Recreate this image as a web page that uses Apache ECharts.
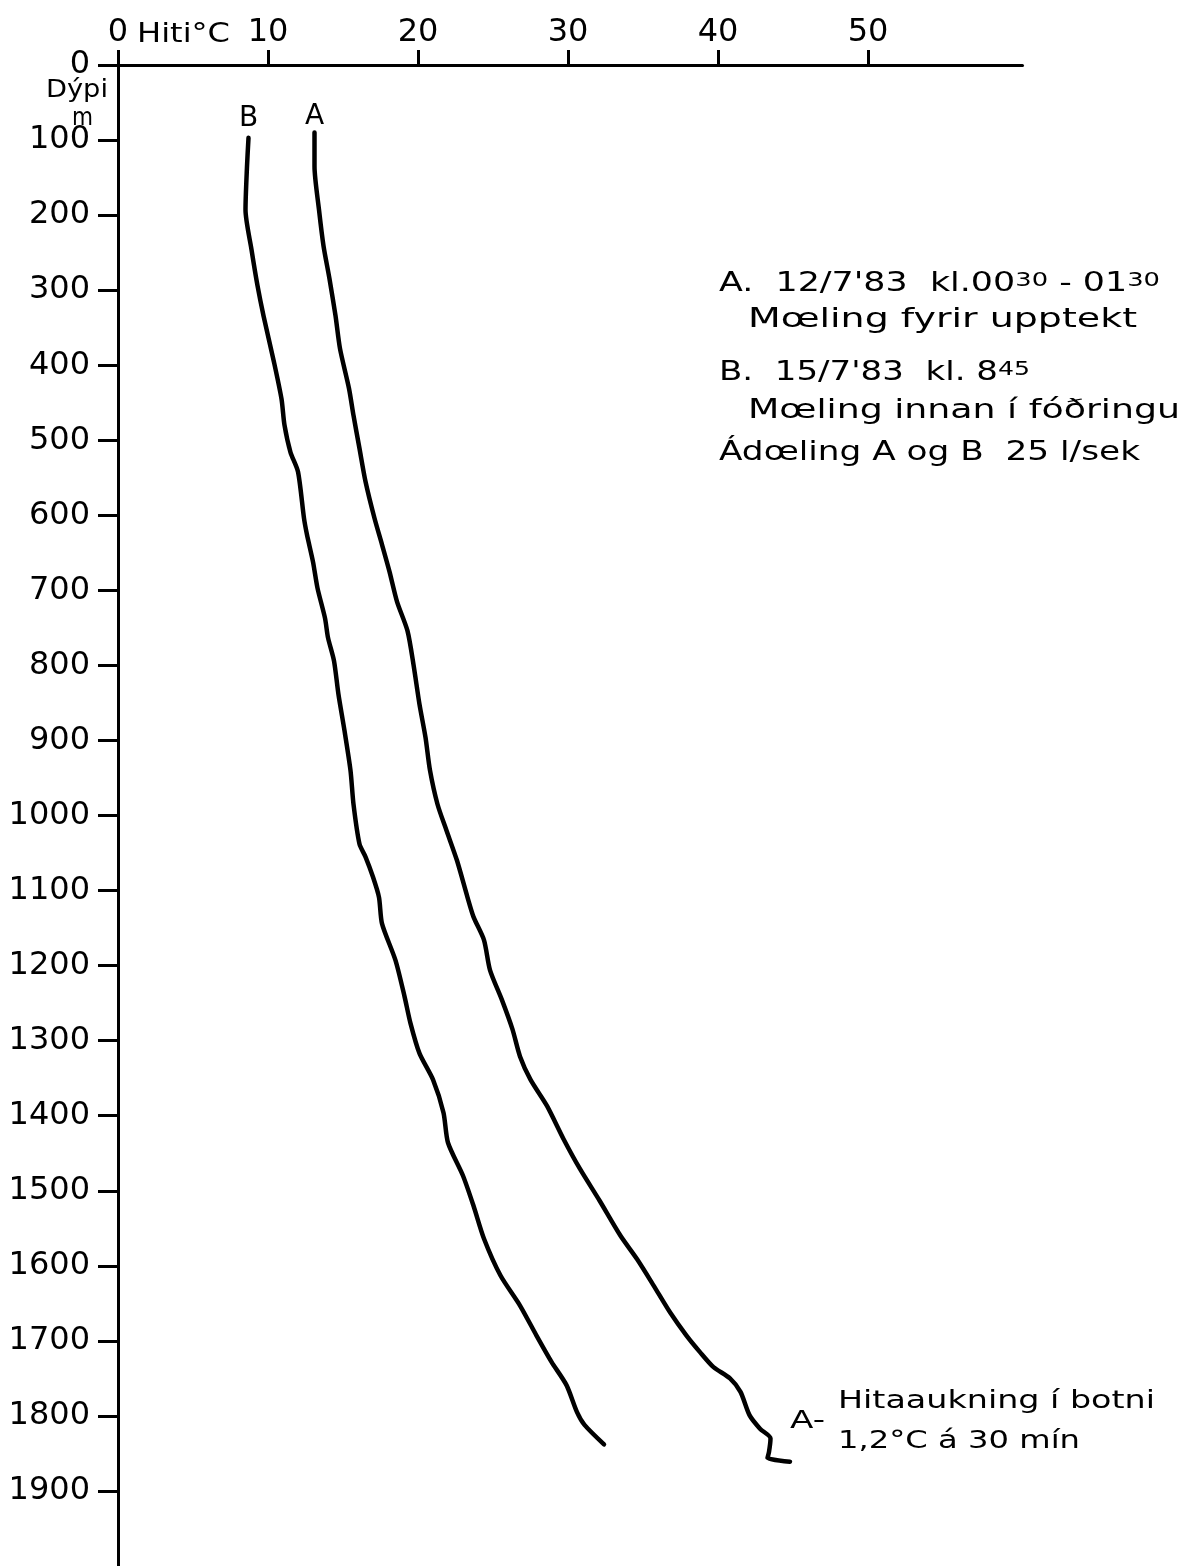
<!DOCTYPE html>
<html>
<head>
<meta charset="utf-8">
<script src="https://cdn.jsdelivr.net/npm/echarts@6/dist/echarts.min.js"></script>
<style>
  html, body { margin: 0; padding: 0; background: #fff; }
  #chart { width: 1180px; height: 1566px; }
</style>
</head>
<body>
<div id="chart"></div>
<script>
// Temperature axis (°C) and depth axis (m) ticks
const tempTicks = [0, 10, 20, 30, 40, 50];
const depthTicks = [0, 100, 200, 300, 400, 500, 600, 700, 800, 900, 1000,
  1100, 1200, 1300, 1400, 1500, 1600, 1700, 1800, 1900];

// Curve A: 12/7'83, measured before production
const depthA = [90, 135, 193, 241, 285, 334, 378, 431, 467, 511,
  555, 604, 639, 675, 715, 754, 799, 852, 896, 940,
  985, 1020, 1060, 1109, 1135, 1166, 1206, 1246, 1285, 1321,
  1352, 1387, 1431, 1471, 1513, 1560, 1591, 1626, 1662, 1693,
  1715, 1735, 1750, 1768, 1799, 1817, 1830, 1848, 1856, 1861];
const tempA = [13.1, 13.1, 13.4, 13.7, 14.1, 14.5, 14.8, 15.4, 15.7, 16.1,
  16.5, 17.1, 17.6, 18.1, 18.6, 19.3, 19.7, 20.1, 20.5, 20.8,
  21.3, 21.9, 22.6, 23.3, 23.7, 24.4, 24.8, 25.6, 26.3, 26.8,
  27.5, 28.6, 29.7, 30.8, 32.1, 33.5, 34.6, 35.7, 36.8, 37.9,
  38.8, 39.7, 40.8, 41.5, 42.1, 42.8, 43.5, 43.4, 43.3, 44.8];

// Curve B: 15/7'83, measured inside the casing
const depthB = [97, 135, 193, 246, 294, 334, 396, 445, 480, 516,
  542, 604, 626, 662, 697, 737, 763, 794, 839, 887,
  940, 985, 1038, 1055, 1082, 1109, 1144, 1193, 1241, 1277,
  1317, 1352, 1396, 1436, 1480, 1520, 1564, 1613, 1653, 1693,
  1728, 1759, 1795, 1812, 1838];
const tempB = [8.7, 8.6, 8.5, 8.9, 9.3, 9.7, 10.4, 10.9, 11.1, 11.5,
  12.0, 12.4, 12.6, 13.0, 13.3, 13.8, 14.0, 14.4, 14.7, 15.1,
  15.5, 15.7, 16.1, 16.5, 17.0, 17.4, 17.6, 18.5, 19.1, 19.5,
  20.1, 21.0, 21.7, 22.0, 23.0, 23.7, 24.4, 25.5, 26.8, 27.9,
  28.9, 29.9, 30.6, 31.1, 32.4];

const FONT = 'DejaVu Sans';
const INK = '#000';

// Hand-lettered text is wider than the font; stretch each line to its width.
const measureCtx = document.createElement('canvas').getContext('2d');
const SUP = 0.74;
function measureParts(parts, size) {
  let w = 0;
  parts.forEach(p => {
    const s = p.sup ? size * SUP : size;
    measureCtx.font = s + 'px "' + FONT + '"';
    w += measureCtx.measureText(p.t).width;
  });
  return w;
}
function lettering(parts, x, y, width, size) {
  if (typeof parts === 'string') parts = [{ t: parts }];
  const text = parts.map(p => p.sup ? '{s|' + p.t + '}' : p.t).join('');
  return {
    type: 'text',
    x: x, y: y,
    scaleX: width / measureParts(parts, size),
    silent: true,
    style: {
      text: text,
      fill: INK,
      fontSize: size,
      fontFamily: FONT,
      textAlign: 'left', align: 'left',
      textVerticalAlign: 'middle', verticalAlign: 'middle',
      rich: {
        s: { fontSize: size * SUP, fontFamily: FONT, fill: INK, verticalAlign: 'top' }
      }
    }
  };
}

function curve(name, temps, depths, labelDist) {
  const data = temps.map((t, i) => [t, depths[i]]);
  data[0] = {
    value: data[0],
    label: {
      show: true, formatter: name, position: 'top', distance: labelDist,
      fontSize: 28, fontFamily: FONT, color: INK
    }
  };
  return {
    type: 'line',
    name: name,
    data: data,
    smooth: 0.25,
    symbol: 'circle',
    symbolSize: 0,
    showSymbol: true,
    showAllSymbol: true,
    silent: true,
    lineStyle: { color: INK, width: 4.5, cap: 'round', join: 'round' },
    itemStyle: { color: INK },
    z: 3
  };
}

const plain = v => String(v);

const chart = echarts.init(document.getElementById('chart'), null, { renderer: 'canvas' });
chart.setOption({
  animation: false,
  backgroundColor: '#fff',
  grid: { left: 118, top: 65, width: 904.5, height: 1506 },
  xAxis: {
    type: 'value',
    position: 'top',
    min: 0, max: 60.3, interval: 10,
    axisLine: { show: true, onZero: false, lineStyle: { color: INK, width: 3 } },
    axisTick: { show: true, customValues: tempTicks, length: 15, lineStyle: { color: INK, width: 3 } },
    axisLabel: { customValues: tempTicks, formatter: plain, margin: 16, fontSize: 32, fontFamily: FONT, color: INK },
    splitLine: { show: false }
  },
  yAxis: {
    type: 'value',
    inverse: true,
    min: 0, max: 2000, interval: 100,
    axisLine: { show: true, onZero: false, lineStyle: { color: INK, width: 3 } },
    axisTick: { show: true, customValues: depthTicks, length: 20, lineStyle: { color: INK, width: 3 } },
    axisLabel: { customValues: depthTicks, formatter: plain, margin: 28, padding: [8, 0, 0, 0], fontSize: 32, fontFamily: FONT, color: INK },
    splitLine: { show: false }
  },
  series: [
    curve('B', tempB, depthB, 5),
    curve('A', tempA, depthA, 2)
  ],
  graphic: [
    lettering('Hiti°C', 137, 35, 93, 27),
    lettering('Dýpi', 46, 91, 62, 24),
    lettering('m', 72, 119, 21, 24),
    lettering([{ t: "A.  12/7'83  kl.00" }, { t: '30', sup: true }, { t: ' - 01' }, { t: '30', sup: true }], 719, 284, 441, 26),
    lettering('Mœling fyrir upptekt', 748, 320, 389, 26),
    lettering([{ t: "B.  15/7'83  kl. 8" }, { t: '45', sup: true }], 719, 373, 311, 26),
    lettering('Mœling innan í fóðringu', 748, 411, 432, 26),
    lettering('Ádœling A og B  25 l/sek', 719, 453, 421, 26),
    lettering('A-', 790, 1421, 35, 25),
    lettering('Hitaaukning í botni', 838, 1401, 317, 25),
    lettering('1,2°C á 30 mín', 838, 1441, 242, 25)
  ]
});
</script>
</body>
</html>
